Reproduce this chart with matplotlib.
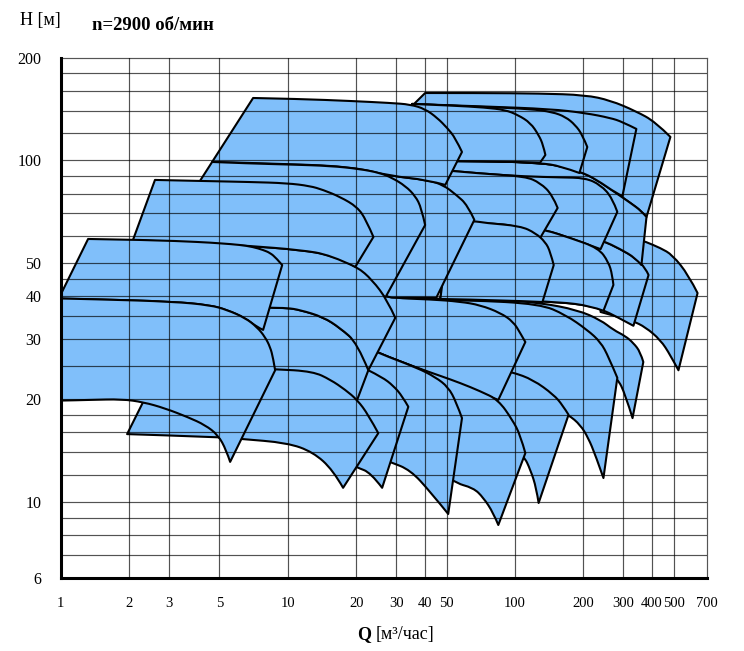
import matplotlib
matplotlib.use("Agg")
import numpy as np
import matplotlib.pyplot as plt
from matplotlib.path import Path
from matplotlib.patches import PathPatch
from matplotlib.ticker import NullLocator

plt.rcParams['font.family'] = ['Liberation Serif', 'DejaVu Serif']

# axes
x_ticks = [1, 2, 3, 5, 10, 20, 30, 40, 50, 100, 200, 300, 400, 500, 700]
y_ticks = [6, 10, 20, 30, 40, 50, 100, 200]
x_grid = [2, 3, 5, 10, 20, 30, 40, 50, 100, 200, 300, 400, 500]
y_grid = [7, 8, 9, 10, 12, 14, 16, 18, 20, 25, 30, 35, 40, 45, 50, 60, 70, 80,
          90, 100, 120, 140, 160, 180]

# pump working fields (Q m3/h, H m): upper curve left->right, lower curve right->left.
# listed back to front
f01_top = [(238, 61.3), (356, 58.5), (375, 57.8), (437, 55.4), (493, 52.9), (580, 46.2), (636, 40.9)]
f01_bot = [(524, 24.3), (483, 26.9), (437, 29.8), (375, 32.5), (329, 33.9), (277, 35.0), (238, 36.0)]

f02_top = [(40.2, 157.6), (70.3, 157.6), (129, 157.1), (204, 155.5), (263, 149.9), (339, 139.6),
           (415, 129.7), (483, 117.2)]
f02_bot = [(379, 68.3), (360, 71.1), (322, 75.1), (282, 79.8), (226, 88.3), (194, 92.6), (158, 96.4),
           (129, 98.3), (95.3, 99.2), (51.9, 99.7), (20.0, 99.7)]

f03_top = [(51.9, 66.5), (66.2, 66.5), (74.0, 65.6), (105.5, 64.3), (136, 62.6), (175, 60.9),
           (240, 58.5), (291, 55.0), (339, 51.8), (375, 48.4), (387, 46.2)]
f03_bot = [(332, 32.8), (277, 35.0), (245, 36.4), (215, 37.5), (158, 38.5), (86.1, 39.0), (46.9, 39.3)]

f04_top = [(29.7, 99.7), (51.9, 99.7), (74.0, 99.7), (95.3, 99.2), (129, 98.3), (158, 96.4),
           (194, 92.6), (226, 88.3), (282, 79.8), (322, 75.1), (360, 71.1), (379, 68.3)]
f04_bot = [(360, 49.4), (339, 51.8), (291, 55.0), (240, 58.5), (175, 60.9), (136, 62.6),
           (105.5, 64.3), (74.0, 65.6), (46.9, 66.5), (31.2, 66.5)]

f05_top = [(18.8, 41.8), (27.3, 39.6), (46.9, 39.4), (88.8, 39.0), (129, 38.3), (188, 36.5),
           (238, 34.1), (271, 31.9), (306, 30.6), (332, 29.2), (356, 27.5), (367, 25.7)]
f05_bot = [(329, 17.6), (306, 20.6), (282, 23.1), (238, 24.7), (175, 26.1), (117, 27.5), (38.3, 28.8)]

f06_top = [(35.2, 146.4), (74.0, 143.9), (143, 141.5), (204, 137.7), (263, 133.2), (297, 129.7),
           (342, 123.7)]
f06_bot = [(297, 78.7), (282, 79.8), (226, 88.3), (194, 92.6), (158, 96.4), (129, 98.3),
           (74.0, 99.7), (31.2, 99.7)]

f07_top = [(46.9, 93.8), (74.0, 91.3), (111, 89.8), (158, 89.2), (204, 88.9), (238, 84.8),
           (268, 77.7), (282, 70.7)]
f07_bot = [(238, 55.0), (175, 59.3), (136, 62.6), (105.5, 64.3), (74.0, 65.6), (46.9, 66.5)]

f08_top = [(31.2, 39.3), (63.6, 39.0), (129, 38.0), (167, 35.3), (208, 31.9), (238, 29.4),
           (258, 26.6), (282, 23.1)]
f08_bot = [(245, 11.75), (226, 13.7), (210, 15.4), (194, 16.8), (172, 18.0), (129, 19.9),
           (86.1, 22.0), (38.3, 26.1)]

f09_top = [(51.9, 66.5), (66.2, 66.5), (74.0, 65.6), (105.5, 64.3), (136, 62.6), (175, 59.3),
           (233, 55.4), (258, 50.4), (268, 46.2), (271, 43.2)]
f09_bot = [(245, 36.3), (215, 37.5), (158, 38.5), (88.8, 39.0), (46.9, 39.3)]

f10_top = [(35.2, 146.4), (74.0, 143.4), (117, 141.5), (146, 138.7), (167, 134.1), (184, 127.1),
           (198, 118.8), (208, 109.5)]
f10_bot = [(192, 91.9), (158, 96.4), (129, 98.3), (74.0, 99.7), (31.2, 99.7)]

f11_top = [(38.3, 27.9), (63.6, 25.7), (97.3, 24.0), (120, 22.8), (148, 20.6), (162, 19.2), (172, 18.0)]
f11_bot = [(127, 9.93), (124, 11.0), (117, 12.4), (109, 13.7), (90.6, 14.7), (63.6, 15.7), (38.3, 17.4)]

f12_top = [(46.9, 93.8), (74.0, 91.3), (111, 89.8), (129, 86.0), (146, 79.3), (154, 72.6)]
f12_bot = [(129, 59.3), (105.5, 64.3), (74.0, 65.6), (46.9, 66.5)]

f13_top = [(51.9, 66.5), (66.2, 66.5), (74.0, 65.6), (105.5, 64.3), (123, 61.3), (136, 57.7),
           (143, 54.0), (148, 49.4)]
f13_bot = [(132, 38.5), (88.8, 39.0), (46.9, 39.3)]

f14_top = [(35.2, 146.4), (51.9, 144.9), (74.0, 142.9), (90.6, 140.6), (103, 135.9), (117, 128.8),
           (127, 118.8), (133, 111.0), (136, 103.8)]
f14_bot = [(129, 98.6), (95.3, 99.2), (51.9, 99.7), (31.2, 99.7)]

f15_top = [(18.8, 41.8), (27.3, 39.6), (42.4, 39.2), (57.4, 38.6), (70.3, 37.7), (86.1, 35.8),
           (98.3, 33.7), (105.5, 31.2), (111, 29.4)]
f15_bot = [(84.4, 19.9), (57.4, 22.0), (37.1, 24.7), (25.0, 27.3), (20.2, 29.2), (17.9, 31.5)]

f16_top = [(11.3, 36.5), (14.3, 34.8), (17.0, 32.3), (20.2, 29.2), (25.0, 27.3), (37.1, 24.7),
           (46.9, 23.4), (57.4, 22.3), (70.3, 21.1), (84.4, 19.9), (97.3, 17.4), (105.5, 15.7),
           (111, 13.9)]
f16_bot = [(84.4, 8.56), (80.3, 9.28), (72.5, 10.3), (65.5, 11.0), (53.5, 11.4), (38.3, 13.3)]

f17_top = [(11.3, 96.4), (19.4, 95.7), (28.2, 90.1), (41.1, 87.7), (48.3, 84.8), (55.1, 79.3),
           (61.7, 74.1), (66.2, 67.0)]
f17_bot = [(45.0, 39.6), (31.2, 39.7), (27.1, 39.6), (23.5, 44.1), (20.2, 48.4), (13.9, 52.5),
           (10.2, 54.0)]

f18_top = [(7.03, 152.4), (11.3, 151.4), (18.8, 149.4), (28.2, 147.4), (34.6, 145.9), (40.2, 141.5),
           (45.5, 133.2), (50.3, 124.5), (54.6, 116.4), (58.4, 105.9)]
f18_bot = [(49.3, 84.8), (41.1, 87.7), (28.2, 90.1), (19.4, 95.7), (10.2, 97.7), (4.64, 99.0)]

f19_top = [(6.82, 37.7), (8.36, 37.0), (9.93, 37.0), (11.3, 36.5), (14.3, 34.8), (17.0, 32.3),
           (20.2, 29.2), (25.0, 27.3), (37.1, 24.7), (44.6, 23.2), (50.8, 21.7), (55.1, 19.6),
           (58.4, 17.6)]
f19_bot = [(50.8, 9.22), (42.4, 10.7), (34.6, 12.4), (28.2, 13.1), (23.1, 13.7), (13.9, 14.7),
           (9.25, 15.2), (6.48, 18.0)]

f20_top = [(4.64, 99.0), (6.82, 98.0), (10.2, 97.3), (15.4, 96.4), (20.8, 94.4), (25.5, 91.9),
           (28.8, 88.9), (32.9, 84.2), (36.4, 78.7), (38.7, 72.6), (40.2, 64.7)]
f20_bot = [(26.8, 39.6), (23.5, 44.1), (20.2, 48.4), (15.4, 52.5), (11.3, 54.3), (6.82, 56.2),
           (2.74, 57.3)]

f21_top = [(22.6, 24.3), (26.0, 23.2), (29.1, 21.9), (31.9, 20.4), (33.9, 19.0)]
f21_bot = [(26.0, 11.0), (23.1, 12.2), (20.2, 12.6), (16.2, 13.5)]

f22_top = [(4.11, 57.3), (6.82, 56.2), (11.3, 54.7), (15.4, 52.9), (20.2, 48.8), (23.5, 44.7),
           (27.4, 39.0), (29.7, 34.6)]
f22_bot = [(22.6, 24.3), (20.2, 29.2), (17.0, 32.3), (14.3, 34.8), (11.3, 36.5), (9.93, 37.0),
           (8.36, 37.0), (6.17, 37.5), (4.11, 38.3)]

f23_top = [(2.74, 24.7), (5.03, 24.7), (8.79, 24.5), (12.9, 24.1), (15.4, 22.8), (17.9, 21.3),
           (20.2, 19.9), (22.6, 18.0), (25.0, 15.9)]
f23_bot = [(17.5, 11.0), (15.8, 12.4), (12.9, 14.0), (9.93, 14.9), (6.17, 15.3), (4.88, 15.5),
           (1.96, 15.8)]

f24_top = [(2.60, 87.7), (4.11, 87.1), (6.82, 86.5), (9.93, 85.8), (12.5, 84.2), (14.3, 82.0),
           (17.0, 78.2), (20.2, 73.1), (22.1, 67.0), (23.8, 59.7)]
f24_bot = [(19.8, 48.8), (15.4, 52.9), (11.3, 54.7), (6.82, 56.2), (4.11, 57.3), (2.08, 58.5)]

f25_top = [(1.32, 58.9), (2.47, 58.5), (4.11, 57.7), (5.03, 57.2), (6.17, 56.6), (7.03, 55.8),
           (7.78, 54.7), (8.36, 53.6), (8.88, 51.8), (9.44, 49.4)]
f25_bot = [(7.78, 31.9), (7.32, 32.5), (6.48, 34.6), (5.40, 36.5), (4.55, 37.7), (3.12, 38.6),
           (1.49, 39.2), (0.98, 39.4)]

f26_top = [(0.90, 39.5), (1.49, 39.2), (3.12, 38.6), (4.55, 37.7), (5.40, 36.5), (6.48, 34.6),
           (7.32, 32.5), (7.94, 30.4), (8.36, 28.4), (8.61, 26.4), (8.79, 24.3)]
f26_bot = [(5.57, 13.1), (5.35, 14.2), (4.93, 15.7), (4.32, 16.8), (3.64, 17.7), (2.88, 18.8),
           (2.31, 19.6), (1.86, 20.0), (1.35, 19.9), (1.0, 19.8), (0.90, 19.8)]

fields = [(f01_top, f01_bot), (f02_top, f02_bot), (f03_top, f03_bot), (f04_top, f04_bot),
          (f05_top, f05_bot), (f06_top, f06_bot), (f07_top, f07_bot), (f08_top, f08_bot),
          (f09_top, f09_bot), (f10_top, f10_bot), (f11_top, f11_bot), (f12_top, f12_bot),
          (f13_top, f13_bot), (f14_top, f14_bot), (f15_top, f15_bot), (f16_top, f16_bot),
          (f17_top, f17_bot), (f18_top, f18_bot), (f19_top, f19_bot), (f20_top, f20_bot),
          (f21_top, f21_bot), (f22_top, f22_bot), (f23_top, f23_bot), (f24_top, f24_bot),
          (f25_top, f25_bot), (f26_top, f26_bot)]

fill_color = '#80BFFA'


def gmid(a, b):
    # midpoint on log axes
    return (np.sqrt(a[0] * b[0]), np.sqrt(a[1] * b[1]))


def smooth(pts):
    # quadratic pieces, the read points act as control points
    if len(pts) < 3:
        return list(pts[1:]), [Path.LINETO] * (len(pts) - 1)
    verts, codes = [], []
    for i in range(1, len(pts) - 2):
        verts += [pts[i], gmid(pts[i], pts[i + 1])]
        codes += [Path.CURVE3, Path.CURVE3]
    verts += [pts[-2], pts[-1]]
    codes += [Path.CURVE3, Path.CURVE3]
    return verts, codes


def field_path(top, bot):
    verts, codes = [top[0]], [Path.MOVETO]
    v, c = smooth(top)
    verts += v
    codes += c
    verts.append(bot[0])
    codes.append(Path.LINETO)
    v, c = smooth(bot)
    verts += v
    codes += c
    verts.append(top[0])
    codes.append(Path.CLOSEPOLY)
    return Path(verts, codes)


fig = plt.figure(figsize=(7.44, 6.51), dpi=100)
ax = fig.add_axes([0.0816, 0.1126, 0.8687, 0.7988])
ax.set_xscale('log')
ax.set_yscale('log')
ax.set_xlim(1, 700)
ax.set_ylim(6, 200)

for top, bot in fields:
    ax.add_patch(PathPatch(field_path(top, bot), facecolor=fill_color, edgecolor='black',
                           linewidth=1.5, joinstyle='round', zorder=2))

# grid lines sit over the fields
for v in x_grid:
    ax.axvline(v, color='black', alpha=0.68, linewidth=0.85, zorder=3)
for v in y_grid:
    ax.axhline(v, color='black', alpha=0.68, linewidth=0.85, zorder=3)

ax.xaxis.set_minor_locator(NullLocator())
ax.yaxis.set_minor_locator(NullLocator())
ax.set_xticks(x_ticks)
ax.set_xticklabels([str(v) for v in x_ticks])
ax.set_yticks(y_ticks)
ax.set_yticklabels([str(v) for v in y_ticks])
ax.tick_params(axis='x', length=0, pad=14, labelsize=10.5)
ax.tick_params(axis='y', length=0, pad=14, labelsize=11.5)

for s in ['left', 'bottom']:
    ax.spines[s].set_linewidth(2.2)
    ax.spines[s].set_zorder(5)
for s in ['top', 'right']:
    ax.spines[s].set_linewidth(0.85)
    ax.spines[s].set_color('#555555')

fig.text(20 / 744, 1 - 20 / 651, 'H [м]', fontsize=13, va='center', ha='left')
fig.text(92 / 744, 1 - 25 / 651, 'n=2900 об/мин', fontsize=13.5, fontweight='bold',
         va='center', ha='left')
fig.text(357 / 744, 1 - 635 / 651, 'Q', fontsize=13, fontweight='bold',
         va='center', ha='left')
fig.text(376 / 744, 1 - 635 / 651, '[м³/час]', fontsize=13, va='center', ha='left')

fig.savefig('out.png', dpi=100)
